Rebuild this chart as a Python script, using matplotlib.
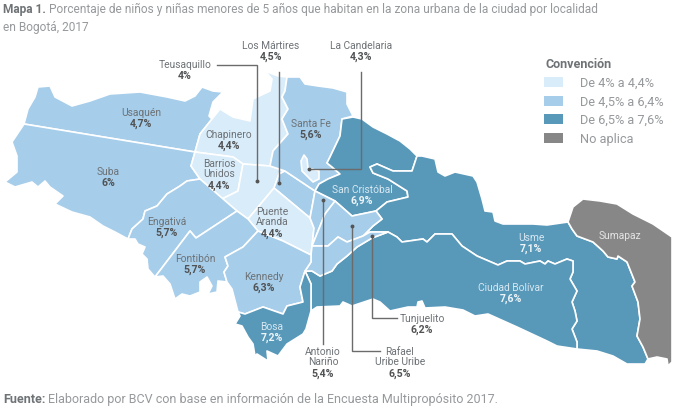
# mapa de localidades de Bogota, coordenadas (pixeles)
import matplotlib
matplotlib.use('Agg')
import matplotlib.pyplot as plt
from matplotlib.patches import Polygon, Rectangle

plt.rcParams['font.family'] = ['Roboto', 'DejaVu Sans']

LIGHT = '#d9ecf9'
MID = '#a6cdea'
DARK = '#5898b9'
GREY = '#878787'

usaquen = [(24,125),(28,110),(35,98),(38,88),(50,87),(55,98),(72,107),(90,102),(110,95),(140,93),(167,98),(185,102),(195,97),(202,88),(213,92),(223,93),(213,103),(209,117),(212,120),(200,135),(195,153)]
suba = [(24,125),(195,153),(191,167),(200,180),(187,182),(180,187),(167,195),(157,207),(145,212),(143,220),(132,230),(128,240),(115,233),(103,227),(90,218),(72,213),(55,205),(63,197),(50,188),(45,182),(38,188),(32,183),(15,188),(5,183),(17,173),(17,157),(12,143)]
chapinero = [(195,153),(200,135),(212,120),(220,110),(233,118),(250,122),(253,100),(270,92),(272,80),(265,72),(278,77),(287,78),(285,92),(282,98),(288,110),(282,120),(288,135),(273,152),(270,167),(243,165),(233,158)]
barrios = [(195,153),(191,167),(200,180),(222,200),(238,192),(243,165),(233,158)]
teusaquillo = [(243,165),(270,167),(285,172),(279,175),(274,189),(248,220),(237,212),(222,200),(238,192)]
martires = [(285,172),(315,192),(313,203),(310,219),(274,189),(279,175)]
santa_fe = [(287,78),(300,78),(305,85),(318,87),(333,89),(347,93),(347,105),(353,117),(342,120),(340,137),(330,158),(327,164),(332,168),(340,175),(328,180),(319,185),(315,192),(285,172),(270,167),(273,152),(288,135),(282,120),(288,110),(282,98),(285,92)]
candelaria = [(304,156),(301,162),(302,172),(313,183),(319,180),(319,172),(308,169),(307,160)]
san_cristobal = [(315,192),(319,185),(328,180),(340,175),(332,168),(327,164),(330,158),(340,137),(342,120),(353,118),(362,120),(373,128),(387,135),(400,142),(410,150),(417,157),(412,172),(393,172),(377,165),(370,168),(373,174),(388,180),(407,192),(408,198),(387,203),(376,212),(352,217),(335,202)]
usme = [(417,157),(422,157),(435,160),(438,173),(445,177),(455,173),(473,177),(477,183),(482,200),(485,212),(493,213),(495,222),(503,225),(533,225),(547,226),(568,223),(572,230),(577,237),(593,243),(603,252),(608,258),(617,260),(618,257),(627,263),(635,283),(632,287),(638,303),(640,320),(637,337),(643,348),(648,360),(645,365),(627,365),(613,357),(597,352),(577,350),(577,343),(572,330),(577,322),(575,312),(572,303),(577,292),(570,280),(573,273),(573,262),(567,260),(555,265),(548,262),(545,265),(540,262),(535,263),(525,265),(520,262),(507,262),(498,266),(477,257),(462,247),(452,235),(435,235),(427,243),(423,240),(402,243),(397,238),(388,233),(370,233),(363,237),(373,227),(382,220),(376,212),(387,203),(408,198),(407,192),(388,180),(373,174),(370,168),(377,165),(393,172),(412,172)]
bolivar = [(305,272),(312,272),(320,277),(332,272),(337,265),(347,257),(357,248),(372,239),(388,233),(397,238),(402,243),(423,240),(427,243),(435,235),(452,235),(462,247),(477,257),(498,266),(507,262),(520,262),(525,265),(535,263),(540,262),(545,265),(548,262),(555,265),(567,260),(573,262),(573,273),(570,280),(577,292),(572,303),(575,312),(577,322),(572,330),(577,343),(577,350),(557,347),(547,342),(517,328),(488,315),(475,317),(463,311),(445,308),(425,309),(422,302),(418,303),(417,308),(408,308),(390,312),(380,303),(373,300),(352,307),(343,303),(340,307),(317,308),(311,312),(311,285)]
sumapaz = [(568,223),(573,208),(583,200),(600,202),(617,205),(633,215),(653,225),(672,238),(672,363),(668,367),(667,360),(657,358),(648,360),(643,348),(637,337),(640,320),(638,303),(632,287),(635,283),(627,263),(618,257),(617,260),(608,258),(603,252),(593,243),(577,237),(572,230)]
puente_aranda = [(274,189),(310,219),(314,229),(312,247),(311,256),(283,242),(258,232),(248,220)]
antonio = [(315,192),(313,203),(310,219),(314,229),(312,247),(325,215),(335,202)]
rafael = [(335,202),(352,217),(376,212),(382,220),(373,227),(363,237),(347,243),(338,238),(328,247),(312,247),(325,215)]
tunjuelito = [(311,256),(312,247),(328,247),(338,238),(347,243),(363,237),(370,233),(388,233),(372,239),(357,248),(347,257),(337,265),(332,272),(320,277),(312,272),(305,272),(311,263)]
engativa = [(200,180),(237,212),(196,239),(190,232),(155,278),(148,270),(147,260),(142,255),(145,248),(138,245),(135,240),(128,240),(132,230),(143,220),(145,212),(157,207),(167,195),(180,187),(187,182)]
fontibon = [(155,278),(190,232),(196,239),(237,212),(248,220),(258,232),(243,248),(225,258),(228,267),(224,273),(227,283),(218,282),(217,293),(208,295),(212,287),(207,278),(200,283),(200,293),(190,297),(182,295),(175,300),(170,285),(163,277)]
kennedy = [(258,232),(283,242),(311,256),(311,263),(305,272),(300,288),(303,303),(287,307),(283,315),(263,308),(245,315),(238,313),(232,290),(227,283),(224,273),(228,267),(225,258),(243,248)]
bosa = [(305,272),(311,285),(311,312),(306,330),(303,335),(287,345),(278,357),(267,352),(268,362),(257,355),(255,357),(253,345),(248,338),(242,327),(235,325),(240,317),(238,313),(245,315),(263,308),(283,315),(287,307),(303,303),(300,288)]

regions = [usaquen, suba, chapinero, barrios, teusaquillo, martires, santa_fe, san_cristobal, usme, bolivar, sumapaz,
           puente_aranda, antonio, rafael, tunjuelito, engativa, fontibon, kennedy, bosa, candelaria]
region_colors = [MID, MID, LIGHT, LIGHT, LIGHT, MID, MID, DARK, DARK, DARK, GREY,
                 LIGHT, MID, MID, MID, MID, MID, MID, DARK, LIGHT]

# nombre, valor, x, y del nombre, color (oscuro o claro)
names = ['Usaquén', 'Suba', 'Chapinero', 'Barrios\nUnidos', 'Santa Fe', 'Engativá', 'Fontibón', 'Puente\nAranda', 'Kennedy',
         'Bosa', 'San Cristóbal', 'Usme', 'Ciudad Bolívar', 'Teusaquillo', 'Los Mártires', 'La Candelaria',
         'Antonio\nNariño', 'Rafael\nUribe Uribe', 'Tunjuelito']
values = ['4,7%', '6%', '4,4%', '4,4%', '5,6%', '5,7%', '5,7%', '4,4%', '6,3%',
          '7,2%', '6,9%', '7,1%', '7,6%', '4%', '4,5%', '4,3%', '5,4%', '6,5%', '6,2%']
label_x = [141, 108, 229, 219, 311, 167, 195, 272, 264, 272, 362, 531, 511, 185, 271, 361, 323, 400, 422]
label_y = [113, 172, 135, 164, 124, 222, 259, 212, 277, 327, 190, 238, 288, 65, 46, 46, 352, 352, 319]
on_dark = ['Bosa', 'San Cristóbal', 'Usme', 'Ciudad Bolívar']

leaders = [[(217,66),(257,66),(257,182)], [(279,73),(279,184)], [(361,73),(361,170),(309,170)],
           [(323,345),(323,201)], [(380,352),(352,352),(352,227)], [(397,319),(372,319),(372,237)]]

legend_labels = ['De 4% a 4,4%', 'De 4,5% a 6,4%', 'De 6,5% a 7,6%', 'No aplica']
legend_colors = [LIGHT, MID, DARK, GREY]
legend_y = [78, 97, 115, 134]


def two_part(ax, x, y, bold, rest, size):
    t = ax.text(x, y, bold, fontsize=size, fontweight='bold', color='#6f7376', va='center')
    r = ax.figure.canvas.get_renderer()
    box = t.get_window_extent(r)
    ax.text(x + box.width + 3, y, rest, fontsize=size, color='#96999c', va='center')


def main():
    fig = plt.figure(figsize=(6.77, 4.10), dpi=100)
    ax = fig.add_axes([0, 0, 1, 1])
    ax.set_xlim(0, 677)
    ax.set_ylim(410, 0)
    ax.axis('off')

    for pts, c in zip(regions, region_colors):
        ax.add_patch(Polygon(pts, closed=True, facecolor=c, edgecolor='white', linewidth=1.2, joinstyle='round'))

    for line in leaders:
        ax.plot([p[0] for p in line], [p[1] for p in line], color='#6b6b6b', lw=1, solid_joinstyle='miter')
        ax.plot(line[-1][0], line[-1][1], 'o', color='#555555', ms=1.8)

    for n, v, x, y in zip(names, values, label_x, label_y):
        c1 = '#d7e8f2' if n in on_dark else '#6d7276'
        c2 = '#eef5f9' if n in on_dark else '#505254'
        lines = n.split('\n')
        for i, part in enumerate(lines):
            ax.text(x, y + i * 10.5, part, fontsize=7.4, color=c1, ha='center', va='center')
        ax.text(x, y + len(lines) * 10.8, v, fontsize=7.6, fontweight='bold', color=c2, ha='center', va='center')
    ax.text(620, 236, 'Sumapaz', fontsize=7.4, color='#e4e4e4', ha='center', va='center')

    ax.text(545, 65, 'Convención', fontsize=9, fontweight='bold', color='#6f7376', va='center')
    for lab, c, y in zip(legend_labels, legend_colors, legend_y):
        ax.add_patch(Rectangle((544, y), 19, 10, facecolor=c, edgecolor='none'))
        ax.text(580, y + 5.5, lab, fontsize=9.2, color='#96999c', va='center')

    fig.canvas.draw()
    two_part(ax, 3, 9, 'Mapa 1.', 'Porcentaje de niños y niñas menores de 5 años que habitan en la zona urbana de la ciudad por localidad', 8.55)
    ax.text(3, 28, 'en Bogotá, 2017', fontsize=8.55, color='#96999c', va='center')
    two_part(ax, 3, 400, 'Fuente:', 'Elaborado por BCV con base en información de la Encuesta Multipropósito 2017.', 9)

    fig.savefig('out.png', dpi=100)


if __name__ == "__main__":
    main()
